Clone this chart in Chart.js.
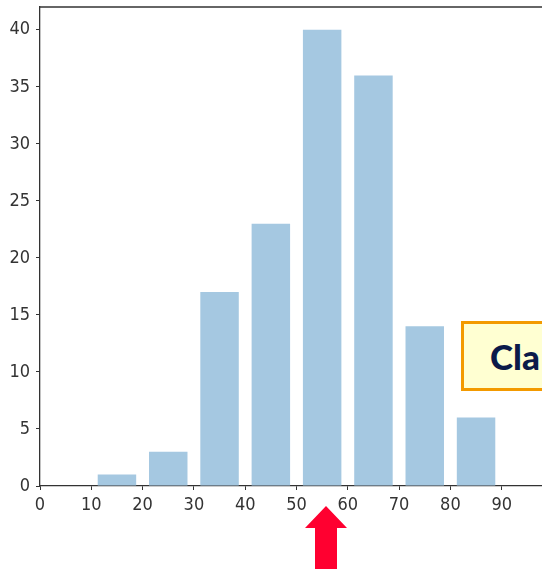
<!DOCTYPE html>
<html>
<head>
<meta charset="utf-8">
<script src="https://cdn.jsdelivr.net/npm/chart.js@4"></script>
<style>
    html, body { margin: 0; padding: 0; background: #fff; overflow: hidden; width: 542px; height: 569px; }
    #wrap { position: relative; width: 560px; height: 569px; }
    #note {
        position: absolute; left: 461px; top: 321px; width: 110px; height: 64px;
        background: #ffffd2; border: 3px solid #f39a00;
        font-family: 'Lato', 'Open Sans', sans-serif; font-weight: 900; font-size: 35px;
        color: #0b1a4a; line-height: 64px; padding-left: 26px; box-sizing: content-box;
    }
    #arrow { position: absolute; left: 304px; top: 506px; }
</style>
</head>
<body>
<div id="wrap">
    <canvas id="histChart" width="560" height="569"></canvas>
    <div id="note">Cla</div>
    <svg id="arrow" width="44" height="64">
        <polygon points="22,0 43,22 33,22 33,64 11,64 11,22 1,22" fill="#ff0030"/>
    </svg>
</div>
<script>
// bin centres (bins 10-20, 20-30, ... 80-90) and counts
const binCenters = [15, 25, 35, 45, 55, 65, 75, 85];
const counts = [1, 3, 17, 23, 40, 36, 14, 6];
const xTicks = [0, 10, 20, 30, 40, 50, 60, 70, 80, 90];

document.addEventListener('DOMContentLoaded', () => {
    const ctx = document.getElementById('histChart').getContext('2d');
    const tickFont = { family: "'Liberation Sans Narrow', 'DejaVu Sans Condensed', sans-serif", size: 18 };

    // draw the top frame line of the axes box
    const frame = {
        id: 'frame',
        afterDraw(chart) {
            const a = chart.chartArea;
            const c = chart.ctx;
            c.save();
            c.strokeStyle = '#333';
            c.lineWidth = 1.3;
            c.beginPath();
            c.moveTo(a.left, a.top);
            c.lineTo(a.right, a.top);
            c.stroke();
            c.restore();
        }
    };

    new Chart(ctx, {
        type: 'bar',
        data: {
            datasets: [{
                data: binCenters.map((x, i) => ({ x: x, y: counts[i] })),
                backgroundColor: '#a5c8e1',
                borderWidth: 0,
                barPercentage: 0.75,
                categoryPercentage: 1
            }]
        },
        options: {
            responsive: false,
            animation: false,
            layout: { padding: { top: 7, right: 7, bottom: 53, left: 0 } },
            plugins: { legend: { display: false }, tooltip: { enabled: false } },
            scales: {
                x: {
                    type: 'linear',
                    offset: false,
                    min: 0,
                    max: 100,
                    afterBuildTicks: s => { s.ticks = xTicks.map(v => ({ value: v })); },
                    afterFit: s => { s.height = 30; s.paddingLeft = 0; s.paddingRight = 0; },
                    grid: { offset: false, drawOnChartArea: false, tickLength: 4, tickColor: '#333' },
                    border: { color: '#333', width: 1.3 },
                    ticks: { color: '#333', padding: 5, maxRotation: 0, font: tickFont }
                },
                y: {
                    min: 0,
                    max: 42,
                    afterFit: s => { s.width = 40; s.paddingTop = 0; s.paddingBottom = 0; },
                    grid: { drawOnChartArea: false, tickLength: 4, tickColor: '#333' },
                    border: { color: '#333', width: 1.3 },
                    ticks: { stepSize: 5, includeBounds: false, color: '#333', padding: 6, font: tickFont }
                }
            }
        },
        plugins: [frame]
    });
});
</script>
</body>
</html>
